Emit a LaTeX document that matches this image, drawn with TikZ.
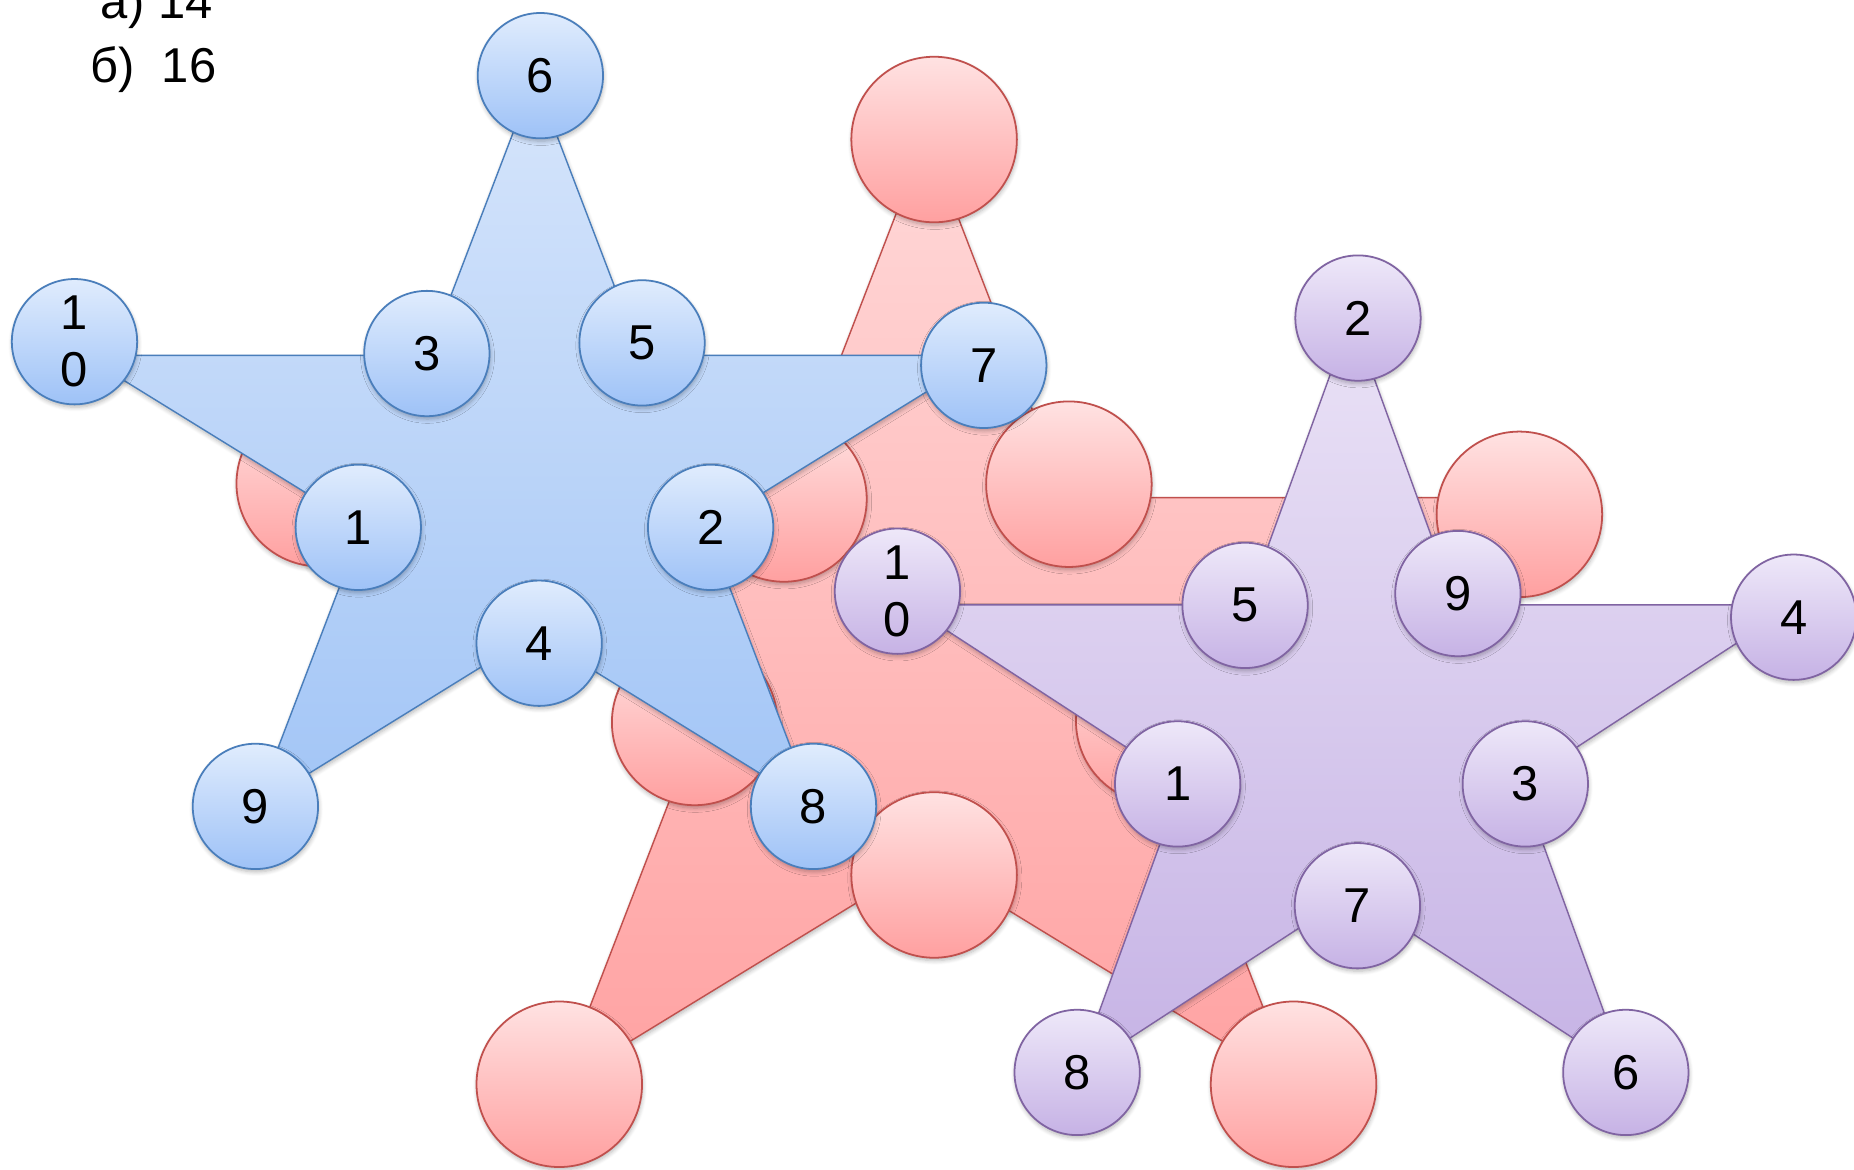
\documentclass[tikz,border=0pt]{standalone}
\usepackage{fontspec}
\setmainfont{Liberation Sans}
\usetikzlibrary{shadows.blur}
\definecolor{bluebd}{RGB}{74,126,187}
\definecolor{bluetop}{RGB}{224,236,253}
\definecolor{bluebot}{RGB}{158,194,247}
\definecolor{bstartop}{RGB}{214,229,251}
\definecolor{bstarbot}{RGB}{162,197,246}
\definecolor{redbd}{RGB}{192,80,77}
\definecolor{redtop}{RGB}{255,226,226}
\definecolor{redbot}{RGB}{255,160,160}
\definecolor{rstartop}{RGB}{255,216,216}
\definecolor{rstarbot}{RGB}{255,162,162}
\definecolor{purbd}{RGB}{128,100,162}
\definecolor{purtop}{RGB}{238,232,249}
\definecolor{purbot}{RGB}{198,178,229}
\definecolor{pstartop}{RGB}{234,226,246}
\definecolor{pstarbot}{RGB}{198,179,229}
\begin{document}
\begin{tikzpicture}[x=0.5pt,y=-0.5pt,
  shad/.style={blur shadow={shadow xshift=0.3pt, shadow yshift=-1.2pt, shadow blur radius=1.8pt, shadow blur steps=6, shadow opacity=28}},
  numfont/.style={font=\fontsize{20.7}{24}\selectfont},
  bcirc/.style={circle, draw=bluebd, line width=0.75pt, top color=bluetop, bottom color=bluebot, minimum size=53pt, inner sep=0pt, align=center, numfont, shad},
  rcirc/.style={circle, draw=redbd, line width=0.75pt, top color=redtop, bottom color=redbot, minimum size=70pt, inner sep=0pt, shad},
  pcirc/.style={circle, draw=purbd, line width=0.75pt, top color=purtop, bottom color=purbot, minimum size=53pt, inner sep=0pt, align=center, numfont, shad},
  bstar/.style={draw=bluebd, line width=0.6pt, top color=bstartop, bottom color=bstarbot, line join=miter, shad},
  rstar/.style={draw=redbd, line width=0.6pt, top color=rstartop, bottom color=rstarbot, line join=miter, shad},
  pstar/.style={draw=purbd, line width=0.6pt, top color=pstartop, bottom color=pstarbot, line join=miter, shad},
  lbl/.style={anchor=base west, inner sep=0pt, numfont}
]
\useasboundingbox (0,0) rectangle (1568,989);

% red star (back)
\path[rstar] (783.5,114.4) -- (901.8,420.9) -- (1284.7,420.9) -- (975.0,610.3) -- (1093.3,916.9) -- (783.5,727.4) -- (473.7,916.9) -- (592.0,610.3) -- (282.3,420.9) -- (665.2,420.9) -- cycle;
\node[rcirc] (r1) at (790,118) {};
\node[rcirc] (r2) at (904,409.5) {};
\node[rcirc] (r3) at (1285,435) {};
\node[rcirc] (r4) at (980,610) {};
\node[rcirc] (r5) at (1094,917) {};
\node[rcirc] (r6) at (790,740) {};
\node[rcirc] (r7) at (473,917) {};
\node[rcirc] (r8) at (587.5,611) {};
\node[rcirc] (r9) at (270,409) {};
\node[rcirc] (r10) at (663,422) {};

% blue star
\path[bstar] (452,65) -- (542.0,300.6) -- (833.4,300.6) -- (597.7,446.2) -- (687.7,681.9) -- (452,536.2) -- (216.3,681.9) -- (306.3,446.2) -- (70.6,300.6) -- (362.0,300.6) -- cycle;
\node[bcirc] (b6) at (457,64) {6};
\node[bcirc] (b10) at (63,289) {1\\0};
\node[bcirc] (b3) at (361,299) {3};
\node[bcirc] (b5) at (543,290) {5};
\node[bcirc] (b7) at (832,309) {7};
\node[bcirc] (b1) at (303,446) {1};
\node[bcirc] (b2) at (601,446) {2};
\node[bcirc] (b4) at (456,544) {4};
\node[bcirc] (b9) at (216,682) {9};
\node[bcirc] (b8) at (688,682) {8};

% purple star
\path[pstar] (1143,267.2) -- (1231.6,511.6) -- (1518.4,511.6) -- (1286.4,662.6) -- (1375,907) -- (1143,756) -- (911,907) -- (999.6,662.6) -- (767.6,511.6) -- (1054.4,511.6) -- cycle;
\node[pcirc] (p2) at (1148.5,269) {2};
\node[pcirc] (p10) at (759,500) {1\\0};
\node[pcirc] (p5) at (1053,512) {5};
\node[pcirc] (p9) at (1233,502) {9};
\node[pcirc] (p4) at (1517,522) {4};
\node[pcirc] (p1) at (996,663) {1};
\node[pcirc] (p3) at (1290,663) {3};
\node[pcirc] (p7) at (1148,766) {7};
\node[pcirc] (p8) at (911,907) {8};
\node[pcirc] (p6) at (1375,907) {6};

% text
\node[lbl] (ta) at (85,16) {а) 14};
\node[lbl] (tb) at (76,70) {б)\ \ 16};
\end{tikzpicture}
\end{document}
